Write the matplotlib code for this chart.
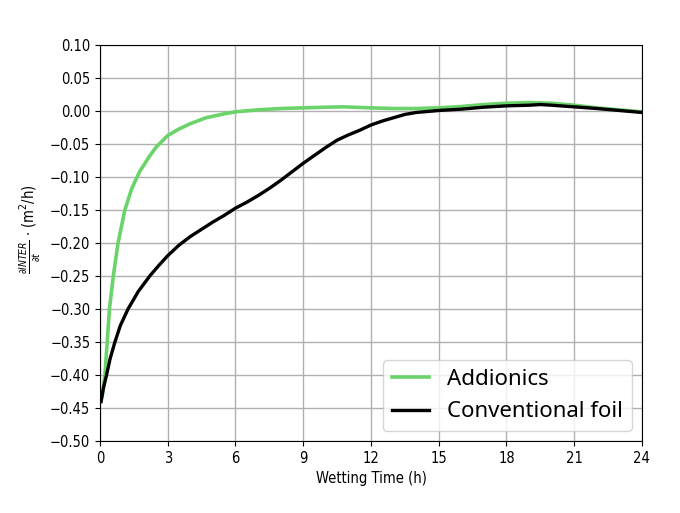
import matplotlib
matplotlib.use("Agg")
import matplotlib.pyplot as plt

plt.rcParams['font.family'] = ['DejaVu Sans']
plt.rcParams['font.stretch'] = 'condensed'

# Addionics curve (t in hours, dINTER/dt)
t_add = [0.0, 0.1, 0.22, 0.32, 0.42, 0.59, 0.8, 1.1, 1.4, 1.75, 2.2, 2.5, 3.0, 3.5, 4.0,
         4.7, 5.5, 6.0, 7.0, 8.0, 9.0, 10.0, 10.8, 12.0, 13.0, 14.0, 15.0, 16.0,
         17.0, 18.0, 19.0, 20.0, 21.0, 22.0, 23.0, 24.0]
v_add = [-0.44, -0.432, -0.40, -0.35, -0.30, -0.25, -0.20, -0.15, -0.118, -0.092,
         -0.068, -0.054, -0.037, -0.027, -0.019, -0.010, -0.004, -0.001, 0.002, 0.004,
         0.005, 0.006, 0.0065, 0.005, 0.004, 0.004, 0.005, 0.007, 0.010, 0.012, 0.013,
         0.012, 0.009, 0.005, 0.002, -0.001]

# Conventional foil curve
t_conv = [0.05, 0.15, 0.29, 0.45, 0.66, 0.9, 1.24, 1.7, 2.2, 2.6, 3.0, 3.5, 4.0, 4.5, 5.0,
          5.5, 6.0, 6.5, 7.0, 7.5, 8.0, 8.5, 9.0, 9.5, 10.0, 10.5, 11.0, 11.5, 12.0, 12.5,
          13.0, 13.5, 14.0, 15.0, 16.0, 17.0, 18.0, 19.0, 19.5, 20.0, 21.0, 22.0, 23.0, 24.0]
v_conv = [-0.44, -0.42, -0.40, -0.375, -0.35, -0.325, -0.30, -0.273, -0.25, -0.234,
          -0.219, -0.203, -0.190, -0.179, -0.168, -0.158, -0.147, -0.138, -0.128, -0.117,
          -0.105, -0.092, -0.079, -0.067, -0.055, -0.044, -0.036, -0.029, -0.021, -0.015,
          -0.010, -0.005, -0.002, 0.001, 0.003, 0.006, 0.008, 0.009, 0.010, 0.009, 0.0065,
          0.004, 0.001, -0.002]

x_ticks = [0, 3, 6, 9, 12, 15, 18, 21, 24]
y_ticks = [-0.50, -0.45, -0.40, -0.35, -0.30, -0.25, -0.20, -0.15, -0.10, -0.05, 0.00, 0.05, 0.10]

fig = plt.figure(figsize=(6.8, 5.13), dpi=100)
ax = fig.add_axes([0.147, 0.140, 0.797, 0.772])

ax.plot(t_add, v_add, color='#6ad36a', lw=2.6, label='Addionics')
ax.plot(t_conv, v_conv, color='black', lw=2.4, label='Conventional foil')

ax.set_xlim(0, 24)
ax.set_ylim(-0.50, 0.10)
ax.set_xticks(x_ticks)
ax.set_yticks(y_ticks)
ax.set_yticklabels([f"{v:.2f}".replace('-', '\u2212') for v in y_ticks])
ax.tick_params(labelsize=10.5)
ax.grid(True, color='#b0b0b0', lw=1)

ax.set_xlabel('Wetting Time (h)', fontsize=10.5)
ax.set_ylabel(r'$\frac{\partial INTER}{\partial t}$ $\cdot$ (m$^2$/h)', fontsize=10.5)
ax.yaxis.set_label_coords(-0.105, 0.535)

ax.legend(loc='lower right', prop={'family': 'Noto Sans', 'size': 16}, handlelength=1.7,
          borderaxespad=0.45)

fig.savefig('out.png', dpi=100)
